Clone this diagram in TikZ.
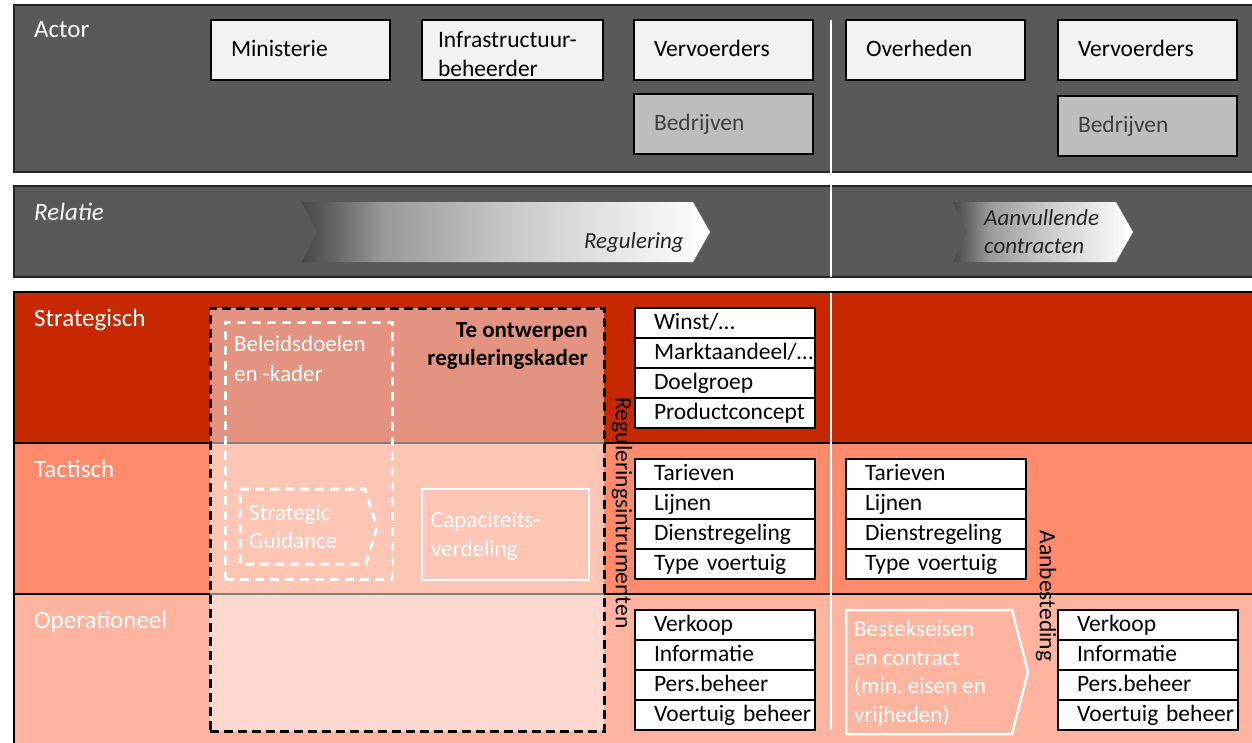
\documentclass[tikz,border=0pt]{standalone}
\usepackage{fontspec}
\setmainfont{Carlito}
\usetikzlibrary{positioning}
\definecolor{bandgrey}{HTML}{595959}
\definecolor{stratred}{HTML}{C82800}
\definecolor{tactred}{HTML}{FF8B6C}
\definecolor{operred}{HTML}{FFB4A0}
\definecolor{actorfill}{HTML}{F2F2F2}
\definecolor{bedrfill}{HTML}{BDBDBD}
\pgfdeclarehorizontalshading{relshade}{100bp}{color(0bp)=(black!72); color(25bp)=(black!72);
    color(29bp)=(black!60); color(35bp)=(black!40); color(50bp)=(black!22);
    color(62bp)=(black!11); color(75bp)=(white); color(100bp)=(white)}

\begin{document}
\begin{tikzpicture}[x=1bp,y=-1bp,
    band/.style={fill=bandgrey,draw=black!85,line width=1.5bp},
    rowlabel/.style={anchor=base west,inner sep=0pt,text=white,font=\fontsize{25bp}{30bp}\selectfont},
    actorbox/.style={draw,line width=2.5bp,fill=actorfill,anchor=north west,outer sep=0pt,minimum height=60bp,
        text width=139bp,inner xsep=20bp,inner ysep=0pt,align=left,text height=16bp,text depth=3bp,
        font=\fontsize{23.5bp}{29bp}\selectfont},
    cell/.style={draw,line width=2.5bp,fill=white,outer sep=0pt,minimum height=30bp,text width=142bp,
        inner xsep=19bp,inner ysep=0pt,align=left,text height=16bp,text depth=4bp,
        font=\fontsize{23.5bp}{29bp}\selectfont},
    plain/.style={inner sep=0pt,align=left,font=\fontsize{23.5bp}{29bp}\selectfont},
    whitedash/.style={draw=white,line width=3bp,dash pattern=on 9bp off 6bp},
    chevron/.style={shading=relshade}
]
    \useasboundingbox (0,0) rectangle (1252,743);

    % banden
    \draw[band] (14,5) rectangle (1262,172);
    \draw[band] (14,186) rectangle (1262,277);
    \fill[stratred] (14,292) rectangle (1262,443);
    \fill[tactred] (14,443) rectangle (1262,594);
    \fill[operred] (14,594) rectangle (1262,745);
    \draw[line width=2.5bp] (1262,292) -- (14,292) -- (14,745);
    \draw[line width=2.5bp] (14,443) -- (1262,443);
    \draw[line width=2.5bp] (14,594) -- (1262,594);
    \draw[white,line width=2.5bp] (831,20) -- (831,277);
    \draw[white,line width=2.5bp] (831,293) -- (831,730);

    \node[rowlabel] (actor) at (34,38) {Actor};
    \node[rowlabel,font=\fontsize{25bp}{30bp}\selectfont\itshape] (relatie) at (34,220) {Relatie};
    \node[rowlabel] (strat) at (34,326) {Strategisch};
    \node[rowlabel] (tact) at (34,477) {Tactisch};
    \node[rowlabel] (oper) at (34,628) {Operationeel};

    % actoren
    \node[actorbox] (min) at (211,20) {Ministerie};
    \node[actorbox,inner xsep=16bp,text width=149bp,text height=,text depth=] (infra) at (422,20) {\rule{0pt}{24bp}Infrastructuur-\\beheerder};
    \node[actorbox] (verv) at (634,20) {Vervoerders};
    \node[actorbox,fill=bedrfill,text=black!75] (bedr) at (634,94) {Bedrijven};
    \node[actorbox] (overh) at (846,20) {Overheden};
    \node[actorbox] (verv2) at (1058,20) {Vervoerders};
    \node[actorbox,fill=bedrfill,text=black!75] (bedr2) at (1058,96) {Bedrijven};

    % relatie
    \shade[chevron] (302,202) -- (693,202) -- (710,232) -- (693,262) -- (302,262) -- (317,232) -- cycle;
    \node[plain,anchor=base east,font=\fontsize{23bp}{29bp}\selectfont\itshape,text=black!85] (regul) at (684,248) {Regulering};
    \shade[chevron] (953,202) -- (1116,202) -- (1133,232) -- (1116,262) -- (953,262) -- (967,232) -- cycle;
    \node[plain,anchor=base west,font=\fontsize{23bp}{28bp}\selectfont\itshape,text=black!85] (aanv) at (984,253) {Aanvullende\\contracten};

    % reguleringskader
    \node[draw,fill=white,fill opacity=0.5,draw opacity=1,line width=3bp,dash pattern=on 9bp off 5bp,outer sep=0pt,
        anchor=north west,minimum width=394bp,minimum height=423bp] (kader) at (210,308) {};
    \node[plain,anchor=base east,align=right,font=\fontsize{23bp}{28bp}\selectfont\bfseries] (kadertxt) at (588,365) {Te ontwerpen\\reguleringskader};
    \node[whitedash,anchor=north west,outer sep=0pt,minimum width=167bp,minimum height=257bp] (beleid) at (225,322) {};
    \node[plain,anchor=base west,text=white,font=\fontsize{23bp}{30bp}\selectfont] (beleidtxt) at (234,381) {Beleidsdoelen\\en -kader};
    \draw[whitedash] (240,489) -- (365,489) -- (377,527) -- (366,564) -- (240,564) -- cycle;
    \node[plain,anchor=base west,text=white,font=\fontsize{23bp}{28bp}\selectfont] (guid) at (249,548) {Strategic\\Guidance};
    \node[draw=white,line width=2.5bp,anchor=north west,outer sep=0pt,minimum width=167bp,minimum height=91bp] (capac) at (422,489) {};
    \node[plain,anchor=base west,text=white,font=\fontsize{23bp}{29bp}\selectfont] (capactxt) at (431,556) {Capaciteits-\\verdeling};

    \node[plain,rotate=-90] (instr) at (622,513) {Reguleringsintrumenten};
    \node[plain,rotate=-90] (aanbest) at (1046,596) {Aanbesteding};

    % instrumenten regulering
    \node[cell,anchor=north west] (winst) at (635,308) {Winst/\ldots};
    \node[cell,below=0pt of winst] (markt) {Marktaandeel/\ldots};
    \node[cell,below=0pt of markt] (doelgr) {Doelgroep};
    \node[cell,below=0pt of doelgr] (prodc) {Productconcept};

    \node[cell,anchor=north west] (tar) at (635,459) {Tarieven};
    \node[cell,below=0pt of tar] (lijn) {Lijnen};
    \node[cell,below=0pt of lijn] (dienst) {Dienstregeling};
    \node[cell,below=0pt of dienst] (type) {\mbox{Type voertuig}};

    \node[cell,anchor=north west] (verk) at (635,610) {Verkoop};
    \node[cell,below=0pt of verk] (info) {Informatie};
    \node[cell,below=0pt of info] (pers) {Pers.beheer};
    \node[cell,below=0pt of pers] (vbeh) {\mbox{Voertuig beheer}};

    % aanbesteding
    \node[cell,anchor=north west] (tar2) at (846,459) {Tarieven};
    \node[cell,below=0pt of tar2] (lijn2) {Lijnen};
    \node[cell,below=0pt of lijn2] (dienst2) {Dienstregeling};
    \node[cell,below=0pt of dienst2] (type2) {\mbox{Type voertuig}};

    \draw[white,line width=2.5bp] (846,610) -- (1012,610) -- (1028,672) -- (1012,734) -- (846,734) -- cycle;
    \node[plain,anchor=base west,text=white,font=\fontsize{23bp}{28.5bp}\selectfont] (bestek) at (854,722) {Bestekseisen\\en contract\\(min.\ eisen en\\vrijheden)};

    \node[cell,anchor=north west] (verk2) at (1058,610) {Verkoop};
    \node[cell,below=0pt of verk2] (info2) {Informatie};
    \node[cell,below=0pt of info2] (pers2) {Pers.beheer};
    \node[cell,below=0pt of pers2] (vbeh2) {\mbox{Voertuig beheer}};
\end{tikzpicture}
\end{document}
